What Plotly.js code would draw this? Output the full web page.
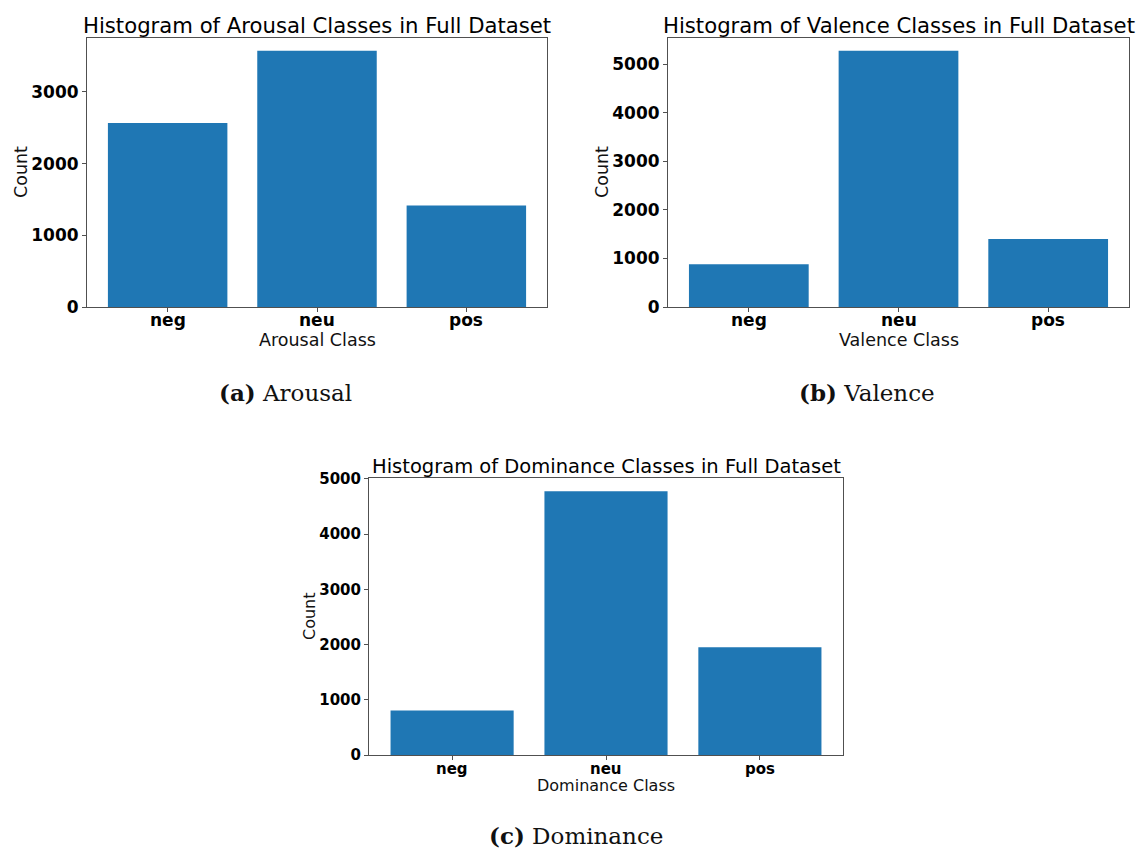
<!DOCTYPE html>
<html>
<head>
<meta charset="utf-8">
<script src="https://cdn.plot.ly/plotly-3.0.1.min.js"></script>
<style>
  html, body { margin: 0; padding: 0; background: #fff; }
  #chart { width: 1140px; height: 849px; }
</style>
</head>
<body>
<div id="chart"></div>
<script>
// Class labels shared by all three histograms
const classes = ['neg', 'neu', 'pos'];

// Counts per class in the full dataset
const arousalCounts = [2567, 3572, 1414];
const valenceCounts = [879, 5275, 1401];
const dominanceCounts = [807, 4777, 1952];

const yTicksArousal = [0, 1000, 2000, 3000];
const yTicksValence = [0, 1000, 2000, 3000, 4000, 5000];
const yTicksDominance = [0, 1000, 2000, 3000, 4000, 5000];

const barColor = '#1f77b4';
const axisColor = '#505050';
const sans = 'DejaVu Sans, sans-serif';
const serif = 'DejaVu Serif, serif';

const W = 1140, H = 849;
const px = v => v / W;
const py = v => 1 - v / H;

function barTrace(values, xa, ya) {
  return {
    type: 'bar', x: classes, y: values, xaxis: xa, yaxis: ya,
    width: 0.8, marker: { color: barColor, line: { width: 0 } },
    hoverinfo: 'skip', showlegend: false
  };
}

// Headroom above the tallest bar, like matplotlib's default 5% margin
function yTop(values) { return Math.max(...values) * 1.05; }

function xAxis(domain, anchor) {
  return {
    domain: domain, anchor: anchor, type: 'category',
    range: [-0.54, 2.54], showgrid: false, zeroline: false,
    showline: true, linecolor: axisColor, linewidth: 1, mirror: true,
    ticks: 'outside', ticklen: 4, tickcolor: axisColor,
    showticklabels: false
  };
}

function yAxis(domain, anchor, top, tickvals, tickSize) {
  return {
    domain: domain, anchor: anchor, range: [0, top],
    tickvals: tickvals, ticktext: tickvals.map(String),
    showgrid: false, zeroline: false,
    showline: true, linecolor: axisColor, linewidth: 1, mirror: true,
    ticks: 'outside', ticklen: 4, tickcolor: axisColor,
    tickfont: { family: sans, size: tickSize, color: '#000', weight: 'bold' }
  };
}

function text(str, x, y, size, family, extra) {
  return Object.assign({
    text: str, xref: 'paper', yref: 'paper', x: x, y: y,
    xanchor: 'center', yanchor: 'middle', showarrow: false,
    font: { family: family, size: size, color: '#111' }
  }, extra || {});
}

// Category labels under each panel, placed on the panel's own x axis
function classLabels(xref, yPix, size) {
  return classes.map(c => ({
    text: '<b>' + c + '</b>', xref: xref, yref: 'paper', x: c, y: py(yPix),
    xanchor: 'center', yanchor: 'middle', showarrow: false,
    font: { family: sans, size: size, color: '#000' }
  }));
}

const data = [
  barTrace(arousalCounts, 'x', 'y'),
  barTrace(valenceCounts, 'x2', 'y2'),
  barTrace(dominanceCounts, 'x3', 'y3')
];

const annotations = [
  // panel titles
  text('Histogram of Arousal Classes in Full Dataset', px(317), py(26), 21.2, sans, { font: { family: sans, size: 21.2, color: '#000' } }),
  text('Histogram of Valence Classes in Full Dataset', px(899), py(26), 21.2, sans, { font: { family: sans, size: 21.2, color: '#000' } }),
  text('Histogram of Dominance Classes in Full Dataset', px(606), py(466), 19.5, sans, { font: { family: sans, size: 19.5, color: '#000' } }),
  // axis titles
  text('Arousal Class', px(317), py(340), 17.5, sans),
  text('Valence Class', px(899), py(340), 17.5, sans),
  text('Dominance Class', px(606), py(785), 16, sans),
  text('Count', px(21), py(172), 17.5, sans, { textangle: -90 }),
  text('Count', px(602), py(172), 17.5, sans, { textangle: -90 }),
  text('Count', px(309), py(616), 16, sans, { textangle: -90 }),
  // sub-figure captions
  text('<b>(a)</b> Arousal', px(285), py(393), 23, serif),
  text('<b>(b)</b> Valence', px(867), py(393), 23, serif),
  text('<b>(c)</b> Dominance', px(576), py(835), 23, serif)
].concat(classLabels('x', 320, 17), classLabels('x2', 320, 17), classLabels('x3', 768.5, 15));

const layout = {
  width: W, height: H,
  margin: { l: 0, r: 0, t: 0, b: 0 },
  paper_bgcolor: '#fff', plot_bgcolor: '#fff',
  xaxis: xAxis([px(87), px(547)], 'y'),
  yaxis: yAxis([py(307), py(38)], 'x', yTop(arousalCounts), yTicksArousal, 17),
  xaxis2: xAxis([px(668), px(1129)], 'y2'),
  yaxis2: yAxis([py(307), py(38)], 'x2', yTop(valenceCounts), yTicksValence, 17),
  xaxis3: xAxis([px(369), px(843)], 'y3'),
  yaxis3: yAxis([py(755), py(478)], 'x3', yTop(dominanceCounts), yTicksDominance, 15),
  annotations: annotations
};

Plotly.newPlot('chart', data, layout, { staticPlot: true, displayModeBar: false });
</script>
</body>
</html>
